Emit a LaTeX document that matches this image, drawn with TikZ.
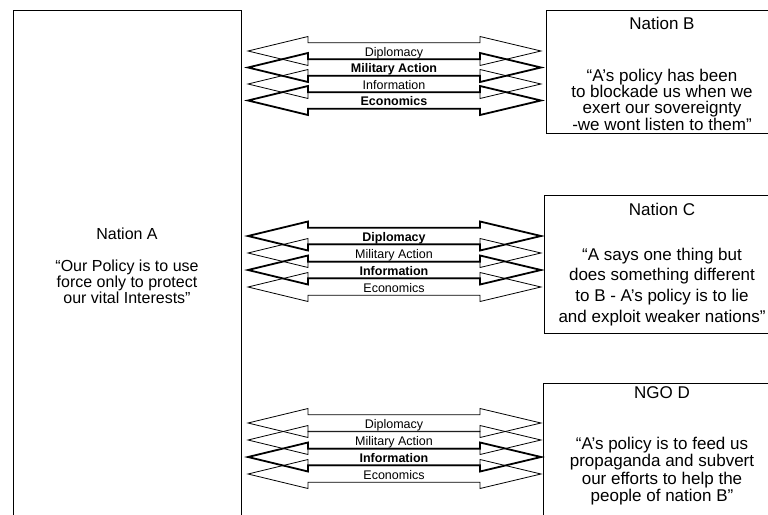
\documentclass[tikz,border=0pt]{standalone}
\usepackage{fontspec}
\setmainfont{Liberation Sans}
\begin{document}
\begin{tikzpicture}[x=1pt,y=-1pt,
  box/.style={draw,line width=0.9pt,inner sep=0pt},
  nametxt/.style={inner sep=0pt,font=\fontsize{17}{17}\selectfont},
  saytxt/.style={inner sep=0pt,align=center},
  arrn/.style={draw,line width=0.8pt},
  arrb/.style={draw,line width=1.8pt},
  lbln/.style={inner sep=0pt,anchor=base,font=\fontsize{12.5}{12.5}\selectfont},
  lblb/.style={inner sep=0pt,anchor=base,font=\fontsize{12.5}{12.5}\selectfont\bfseries},
  ]
\useasboundingbox (0,0) rectangle (768,514);

\node[box,anchor=north west,minimum width=228,minimum height=530] (A) at (13,10) {};
\node[box,anchor=north west,minimum width=232,minimum height=123] (B) at (546,10) {};
\node[box,anchor=north west,minimum width=234,minimum height=138] (C) at (544,195) {};
\node[box,anchor=north west,minimum width=235,minimum height=200] (D) at (543,383) {};

\node[nametxt,font=\fontsize{16}{16}\selectfont] (At) at (127,233.5) {Nation A};
\node[saytxt,font=\fontsize{16}{14.7}\selectfont] (Aq) at (127,282) {“Our Policy is to use\\force only to protect\\our vital Interests”};
\node[nametxt] (Bt) at (662,23) {Nation B};
\node[saytxt,font=\fontsize{17}{15.2}\selectfont] (Bq) at (662,99.5) {“A’s policy has been\\to blockade us when we\\exert our sovereignty\\-we wont listen to them”};
\node[nametxt] (Ct) at (662,209) {Nation C};
\node[saytxt,font=\fontsize{17}{20.8}\selectfont] (Cq) at (662,287) {“A says one thing but\\does something different\\to B - A’s policy is to lie\\and exploit weaker nations”};
\node[nametxt] (Dt) at (662,393) {NGO D};
\node[saytxt,font=\fontsize{17}{17.3}\selectfont] (Dq) at (662,471) {“A’s policy is to feed us\\propaganda and subvert\\our efforts to help the\\people of nation B”};

\foreach \n/\y/\t/\k in {b1/51/Diplomacy/n, b2/67.5/Military Action/b, b3/84/Information/n, b4/100.5/Economics/b,
  c1/236/Diplomacy/b, c2/253/Military Action/n, c3/270/Information/b, c4/287/Economics/n,
  d1/423/Diplomacy/n, d2/440/Military Action/n, d3/457/Information/b, d4/474/Economics/n}
{
  \draw[arr\k] (248,\y) -- (308,{\y-14.5}) -- (308,{\y-8.25}) -- (480,{\y-8.25}) -- (480,{\y-14.5})
    -- (541,\y) -- (480,{\y+14.5}) -- (480,{\y+8.25}) -- (308,{\y+8.25}) -- (308,{\y+14.5}) -- cycle;
  \node[lbl\k] (\n) at (394,{\y+5}) {\t};
}
\end{tikzpicture}
\end{document}
